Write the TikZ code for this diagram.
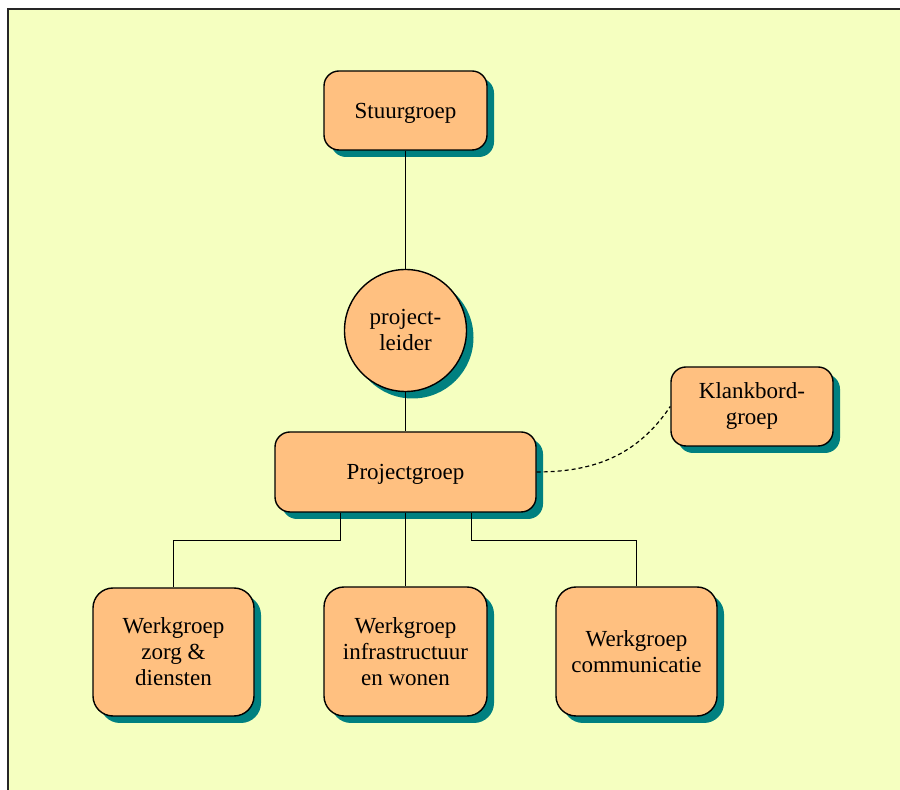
\documentclass[tikz,border=0pt]{standalone}
\usepackage{fontspec}
\setmainfont{Liberation Serif}
\usetikzlibrary{shadows}
\definecolor{bgc}{HTML}{F5FFC0}
\definecolor{boxc}{HTML}{FFC080}
\definecolor{shadc}{HTML}{008080}
\tikzset{
  orgtext/.style={align=center, font=\fontsize{23}{26}\selectfont,
    execute at begin node={\rule{0pt}{20.5pt}}},
  orgbox/.style={draw=black, line width=1.4pt, fill=boxc, rounded corners=#1,
    inner sep=0pt, orgtext,
    drop shadow={shadow xshift=7pt, shadow yshift=-7pt, fill=shadc, opacity=1}},
  orgbox/.default=15pt,
  orgcirc/.style={circle, draw=black, line width=1.4pt, fill=boxc, inner sep=0pt,
    minimum size=122pt, orgtext,
    drop shadow={shadow xshift=7pt, shadow yshift=-7pt, fill=shadc, opacity=1}},
  link/.style={draw=black, line width=1pt},
  dlink/.style={draw=black, line width=1.2pt, dash pattern=on 4pt off 3pt}
}
\begin{document}
\begin{tikzpicture}[x=1pt,y=1pt]
\useasboundingbox (0,0) rectangle (900,790);
\fill[bgc] (8,0) rectangle (900,781);
\draw[line width=2pt, black!85] (8,0) -- (8,781) -- (900,781);

\node[orgbox, minimum width=163pt, minimum height=79pt] (stuur) at (405.5,679.5) {Stuurgroep};
\node[orgcirc] (pl) at (405.5,459.5) {project-\\leider};
\node[orgbox, minimum width=261pt, minimum height=80pt] (pg) at (405.5,318) {Projectgroep};
\node[orgbox, minimum width=162pt, minimum height=79pt] (kb) at (752,383.5) {Klankbord-\\groep};
\node[orgbox=20pt, minimum width=161pt, minimum height=128pt] (zorg) at (173.5,138) {Werkgroep\\zorg \&\\diensten};
\node[orgbox=20pt, minimum width=163pt, minimum height=129pt] (infra) at (405.5,138.5) {Werkgroep\\infrastructuur\\en wonen};
\node[orgbox=20pt, minimum width=161pt, minimum height=129pt] (comm) at (636.5,138.5) {Werkgroep\\communicatie};

\draw[link] (stuur.south) -- (pl.north);
\draw[link] (pl.south) -- (pg.north);
\draw[link] ([xshift=-65.5pt]pg.south) -- ++(0,-28) -| (zorg.north);
\draw[link] (pg.south) -- (infra.north);
\draw[link] ([xshift=65.5pt]pg.south) -- ++(0,-28) -| (comm.north);
\draw[dlink] (pg.east) to[out=0, in=236] (kb.west);
\end{tikzpicture}
\end{document}
